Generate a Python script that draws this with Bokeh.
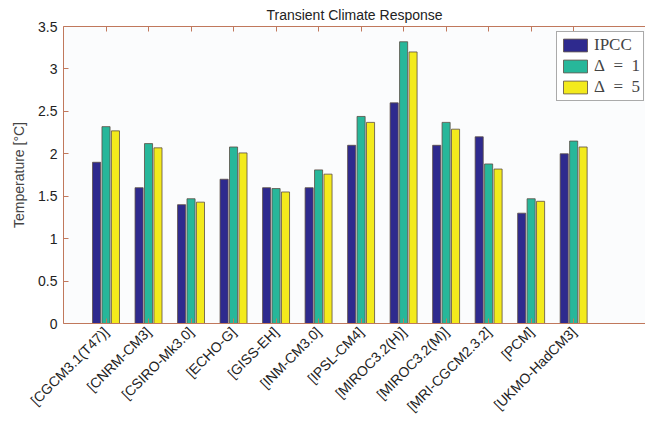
import numpy as np
from bokeh.plotting import figure
from bokeh.models import (ColumnDataSource, FixedTicker, LinearAxis, Legend, LegendItem,
                          Range1d, CustomJSTickFormatter)
from bokeh.transform import dodge
from bokeh.embed import file_html
from bokeh.resources import INLINE

models = ["[CGCM3.1(T47)]", "[CNRM-CM3]", "[CSIRO-Mk3.0]", "[ECHO-G]", "[GISS-EH]",
          "[INM-CM3.0]", "[IPSL-CM4]", "[MIROC3.2(H)]", "[MIROC3.2(M)]",
          "[MRI-CGCM2.3.2]", "[PCM]", "[UKMO-HadCM3]"]
ipcc = [1.9, 1.6, 1.4, 1.7, 1.6, 1.6, 2.1, 2.6, 2.1, 2.2, 1.3, 2.0]
delta1 = [2.32, 2.12, 1.47, 2.08, 1.59, 1.81, 2.44, 3.32, 2.37, 1.88, 1.47, 2.15]
delta5 = [2.27, 2.07, 1.43, 2.01, 1.55, 1.76, 2.37, 3.20, 2.29, 1.82, 1.44, 2.08]
y_ticks = [0, 0.5, 1, 1.5, 2, 2.5, 3, 3.5]

idx = list(range(1, len(models) + 1))
src = ColumnDataSource(dict(x=idx, ipcc=ipcc, d1=delta1, d5=delta5))

axis_col = "#c0785c"
font = "Liberation Sans"

p = figure(width=645, height=435, output_backend="svg", toolbar_location=None,
           x_range=Range1d(0, 13.69), y_range=Range1d(0, 3.5),
           min_border_left=63, min_border_right=0, min_border_top=0, min_border_bottom=112,
           background_fill_color="#fbfcfd",
           title="Transient Climate Response")
p.outline_line_color = None
p.grid.visible = False
p.title.align = "center"
p.title.text_font = font
p.title.text_font_size = "14px"
p.title.text_font_style = "normal"
p.title.text_color = "#222222"
p.title.standoff = 8
p.title.offset = 0

colors = ["#2e2a8e", "#27b79a", "#f3ea1c"]
edge = "#5a4c44"
w = 0.19
r1 = p.vbar(x=dodge("x", -0.222, range=p.x_range), top="ipcc", width=w, source=src,
            fill_color=colors[0], line_color=edge, line_width=0.8)
r2 = p.vbar(x=dodge("x", 0.0, range=p.x_range), top="d1", width=w, source=src,
            fill_color=colors[1], line_color=edge, line_width=0.8)
r3 = p.vbar(x=dodge("x", 0.222, range=p.x_range), top="d5", width=w, source=src,
            fill_color=colors[2], line_color=edge, line_width=0.8)

xa = p.xaxis[0]
xa.ticker = FixedTicker(ticks=idx)
xa.major_label_overrides = {i: m for i, m in zip(idx, models)}
xa.major_label_orientation = np.pi / 4
ya = p.yaxis[0]
ya.ticker = FixedTicker(ticks=y_ticks)
ya.major_label_overrides = {t: (str(int(t)) if float(t).is_integer() else str(t)) for t in y_ticks}
ya.axis_label = "Temperature [°C]"
ya.axis_label_text_font_style = "normal"
ya.axis_label_text_font = font
ya.axis_label_text_font_size = "14px"
ya.axis_label_standoff = 8

for ax in (xa, ya):
    ax.axis_line_color = axis_col
    ax.major_tick_line_color = axis_col
    ax.major_tick_in = 5
    ax.major_tick_out = 0
    ax.minor_tick_line_color = None
    ax.major_label_text_font = font
    ax.major_label_text_font_size = "14px"
    ax.major_label_text_color = "#222222"
    ax.major_label_standoff = 6

top = LinearAxis(ticker=FixedTicker(ticks=idx),
                 formatter=CustomJSTickFormatter(code="return ''"),
                 axis_line_color=axis_col, major_tick_line_color=axis_col,
                 major_tick_in=5, major_tick_out=0, minor_tick_line_color=None,
                 major_label_standoff=0)
p.add_layout(top, "above")

legend = Legend(items=[LegendItem(label="IPCC", renderers=[r1]),
                       LegendItem(label="Δ\u2002=\u20021", renderers=[r2]),
                       LegendItem(label="Δ\u2002=\u20025", renderers=[r3])],
                location=(493, 222), label_text_font="Liberation Serif",
                label_text_font_size="17px", glyph_width=30, glyph_height=16,
                label_height=17, spacing=1, padding=3, margin=0, label_standoff=4,
                border_line_color="#555555", border_line_width=1,
                background_fill_color="white", background_fill_alpha=1.0)
p.add_layout(legend)

open("out.html", "w").write(file_html(p, INLINE))
